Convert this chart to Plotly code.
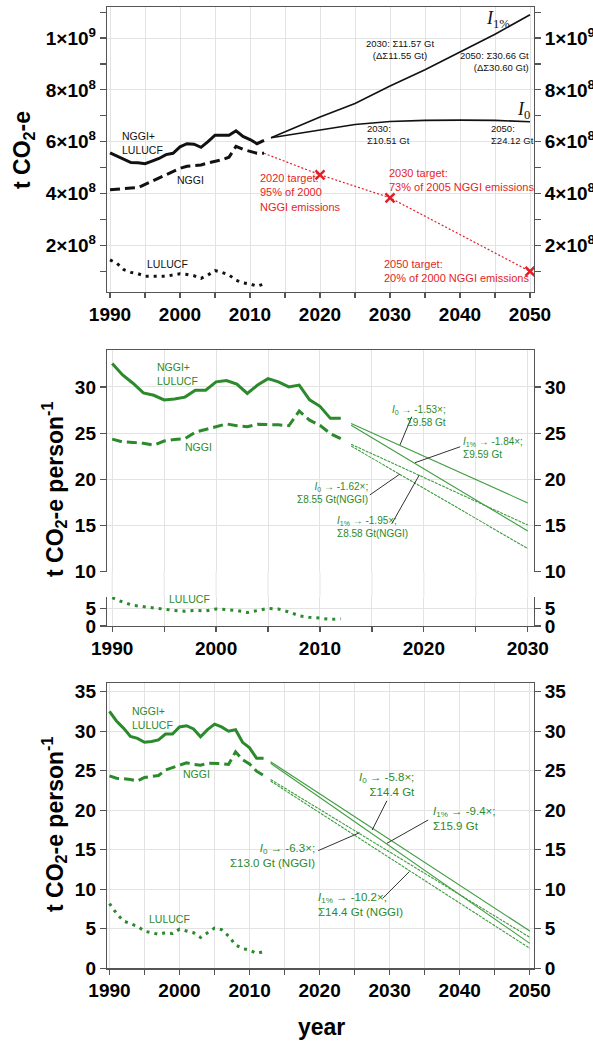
import plotly.graph_objects as go

W, H = 593, 1041

# ---------------- data ----------------
years = list(range(1990, 2013))
total_abs = [5.57e8, 5.45e8, 5.30e8, 5.19e8, 5.18e8, 5.15e8, 5.25e8, 5.35e8, 5.50e8, 5.55e8,
             5.80e8, 5.92e8, 5.90e8, 5.78e8, 6.00e8, 6.25e8, 6.25e8, 6.25e8, 6.42e8, 6.20e8,
             6.08e8, 5.92e8, 6.05e8]
nggi_abs = [4.14e8, 4.17e8, 4.19e8, 4.21e8, 4.22e8, 4.35e8, 4.45e8, 4.60e8, 4.72e8, 4.85e8,
            4.97e8, 5.05e8, 5.08e8, 5.10e8, 5.18e8, 5.25e8, 5.30e8, 5.40e8, 5.82e8, 5.70e8,
            5.63e8, 5.55e8, 5.55e8]
lulucf_abs = [1.43e8, 1.30e8, 1.05e8, 0.95e8, 0.90e8, 0.80e8, 0.80e8, 0.80e8, 0.80e8, 0.85e8,
              0.90e8, 0.87e8, 0.82e8, 0.72e8, 0.85e8, 1.02e8, 0.95e8, 0.85e8, 0.65e8, 0.55e8,
              0.50e8, 0.42e8, 0.50e8]

proj_years = [2013, 2016, 2020, 2025, 2030, 2035, 2040, 2045, 2050]
i1_abs = [6.15e8, 6.50e8, 6.95e8, 7.47e8, 8.15e8, 8.78e8, 9.45e8, 10.15e8, 10.9e8]
i0_abs = [6.15e8, 6.28e8, 6.45e8, 6.66e8, 6.78e8, 6.82e8, 6.83e8, 6.82e8, 6.77e8]

target_years = [2020, 2030, 2050]
target_abs = [4.72e8, 3.83e8, 0.99e8]

total_pc = [32.53, 31.3, 30.4, 29.35, 29.1, 28.6, 28.7, 28.9, 29.65, 29.65, 30.55, 30.7, 30.3,
            29.3, 30.2, 30.9, 30.55, 30.0, 30.2, 28.6, 27.9, 26.6, 26.6]
nggi_pc = [24.35, 24.05, 24.0, 23.9, 23.7, 24.15, 24.3, 24.4, 25.1, 25.4, 25.7, 26.0, 25.8,
           25.7, 25.95, 25.95, 25.9, 25.8, 27.4, 26.4, 25.85, 24.95, 24.4]
lulucf_pc = [8.2, 6.95, 6.0, 5.6, 5.3, 4.7, 4.5, 4.3, 4.5, 4.4, 4.95, 4.75, 4.5, 3.9, 4.5,
             5.1, 4.9, 4.1, 2.95, 2.5, 2.3, 1.9, 2.1]

# per-capita projections (start 2013, end 2030 / 2050)
mid_years = [2013, 2030]
mid_i0_tot = [26.04, 17.45]
mid_i1_tot = [25.86, 14.4]
mid_i0_nggi = [23.8, 15.05]
mid_i1_nggi = [23.6, 12.5]

bot_years = [2013, 2050]
bot_i0_tot = [26.15, 4.72]
bot_i1_tot = [25.95, 3.16]
bot_i0_nggi = [23.9, 3.92]
bot_i1_nggi = [23.7, 2.53]

top_ticks = [2e8, 4e8, 6e8, 8e8, 1e9]
top_ticktext = ["2×10<sup>8</sup>", "4×10<sup>8</sup>", "6×10<sup>8</sup>",
                "8×10<sup>8</sup>", "1×10<sup>9</sup>"]

# ---------------- style ----------------
BLACK = "#111111"
GREEN = "#2b8a2b"
GREEN_T = "#3f9c3f"
RED = "#e41e26"
GRID = "#e3e3e3"
FRAME = "#555555"
TICKFONT = dict(family="Liberation Sans, Arial", size=19, color="black", weight="bold")
SANS = "Liberation Sans, Arial"
SERIF = "Liberation Serif, DejaVu Serif"

def px_x(p):
    return p / W

def px_y(p):
    return 1 - p / H

XDOM = [px_x(107), px_x(534)]

fig = go.Figure()

def line(x, y, xa, ya, color, width, dash="solid"):
    fig.add_trace(go.Scatter(x=x, y=y, xaxis=xa, yaxis=ya, mode="lines",
                             line=dict(color=color, width=width, dash=dash),
                             hoverinfo="skip", showlegend=False))

def dummy(xa, ya):
    fig.add_trace(go.Scatter(x=[None], y=[None], xaxis=xa, yaxis=ya, mode="lines",
                             hoverinfo="skip", showlegend=False))

DASH = "10px,5px"
DOT = "3px,5px"

# ---- top panel ----
line(years, total_abs, "x", "y", BLACK, 3)
line(years, nggi_abs, "x", "y", BLACK, 3, DASH)
line(years, lulucf_abs, "x", "y", BLACK, 3, DOT)
line(proj_years, i1_abs, "x", "y", BLACK, 1.6)
line(proj_years, i0_abs, "x", "y", BLACK, 1.6)
line([years[-1]] + target_years, [nggi_abs[-1]] + target_abs, "x", "y", RED, 1.2, "2px,2px")
fig.add_trace(go.Scatter(x=target_years, y=target_abs, xaxis="x", yaxis="y", mode="markers",
                         marker=dict(symbol="x-thin", size=9, line=dict(color=RED, width=2.5)),
                         hoverinfo="skip", showlegend=False))
dummy("x", "y2")

# ---- middle panel ----
line(years, total_pc, "x2", "y3", GREEN, 3)
line(years, nggi_pc, "x2", "y3", GREEN, 3, DASH)
line(years, lulucf_pc, "x3", "y5", GREEN, 3, DOT)
line(mid_years, mid_i0_tot, "x2", "y3", GREEN_T, 1.1)
line(mid_years, mid_i1_tot, "x2", "y3", GREEN_T, 1.1)
line(mid_years, mid_i0_nggi, "x2", "y3", GREEN_T, 1.1, "3px,1px")
line(mid_years, mid_i1_nggi, "x2", "y3", GREEN_T, 1.1, "3px,1px")
dummy("x2", "y4")
dummy("x3", "y6")

# ---- bottom panel ----
line(years, total_pc, "x4", "y7", GREEN, 3)
line(years, nggi_pc, "x4", "y7", GREEN, 3, DASH)
line(years, lulucf_pc, "x4", "y7", GREEN, 3, DOT)
line(bot_years, bot_i0_tot, "x4", "y7", GREEN_T, 1.1)
line(bot_years, bot_i1_tot, "x4", "y7", GREEN_T, 1.1)
line(bot_years, bot_i0_nggi, "x4", "y7", GREEN_T, 1.1, "3px,1px")
line(bot_years, bot_i1_nggi, "x4", "y7", GREEN_T, 1.1, "3px,1px")
dummy("x4", "y8")

# ---------------- axes ----------------
def xax(rng, anchor, labels=True, side="bottom", mirror=True, tickvals=None):
    d = dict(domain=XDOM, anchor=anchor, range=rng, showgrid=True, gridcolor=GRID, gridwidth=1,
             showline=True, linecolor=FRAME, linewidth=1.2, mirror=mirror, zeroline=False,
             side=side, automargin=False, tickfont=TICKFONT)
    if labels:
        d.update(tickmode="array", tickvals=tickvals, ticks="outside", ticklen=5, tickwidth=1.2,
                 tickcolor=FRAME, showticklabels=True,
                 minor=dict(dtick=5, tick0=1990, ticks="outside", ticklen=5, tickwidth=1.2,
                            tickcolor=FRAME, showgrid=True, gridcolor=GRID))
    else:
        d.update(tickmode="array", tickvals=list(range(1990, 2031, 5)), ticks="",
                 showticklabels=False)
    return d

def yax(dom, rng, tickvals, ticktext=None, side="left", overlay=None, anchor=None,
        grid=True, mirror=True, minorvals=None):
    d = dict(domain=dom, range=rng, tickmode="array", tickvals=tickvals, ticks="outside",
             ticklen=6, tickwidth=1.2, tickcolor=FRAME, showgrid=grid, gridcolor=GRID,
             zeroline=False, automargin=False, tickfont=TICKFONT, side=side)
    if ticktext is not None:
        d["ticktext"] = ticktext
    if overlay:
        d.update(overlaying=overlay, anchor=anchor, showline=False, showgrid=False)
    else:
        d.update(anchor=anchor, showline=True, linecolor=FRAME, linewidth=1.2, mirror=mirror)
    if minorvals:
        d["minor"] = dict(tickvals=minorvals, ticks="outside", ticklen=6, tickwidth=1.2,
                          tickcolor=FRAME, showgrid=False)
    return d

top_dom = [px_y(292), px_y(7)]
midu_dom = [px_y(571.7), px_y(350)]
midl_dom = [px_y(626), px_y(596.7)]
bot_dom = [px_y(968.3), px_y(683.3)]

top_range = [0.193e8, 11.2e8]
top_minor = [1e8, 3e8, 5e8, 7e8, 9e8, 11e8]
fig.update_layout(
    xaxis=xax([1989.57, 2050.57], "y", tickvals=list(range(1990, 2051, 10))),
    yaxis=yax(top_dom, top_range, top_ticks, top_ticktext, anchor="x", minorvals=top_minor),
    yaxis2=yax(top_dom, top_range, top_ticks, top_ticktext, side="right", overlay="y",
               anchor="x", minorvals=top_minor),
    xaxis2=xax([1989.5, 2030.6], "y3", labels=False, side="top", mirror=False),
    yaxis3=yax(midu_dom, [10, 34], [10, 15, 20, 25, 30], anchor="x2"),
    yaxis4=yax(midu_dom, [10, 34], [10, 15, 20, 25, 30], side="right", overlay="y3",
               anchor="x2"),
    xaxis3=xax([1989.5, 2030.6], "y5", mirror=False, tickvals=list(range(1990, 2031, 10))),
    yaxis5=yax(midl_dom, [0, 8.5], [0, 5], anchor="x3"),
    yaxis6=yax(midl_dom, [0, 8.5], [0, 5], side="right", overlay="y5", anchor="x3"),
    xaxis4=xax([1989.65, 2050.6], "y7", tickvals=list(range(1990, 2051, 10))),
    yaxis7=yax(bot_dom, [0, 36.07], list(range(0, 36, 5)), anchor="x4"),
    yaxis8=yax(bot_dom, [0, 36.07], list(range(0, 36, 5)), side="right", overlay="y7",
               anchor="x4"),
)

# vertical grid continuing through the broken-axis gap of the middle panel
for yr in range(1990, 2031, 5):
    fig.add_shape(type="line", xref="x3", yref="paper", x0=yr, x1=yr,
                  y0=px_y(596.7), y1=px_y(571.7), line=dict(color=GRID, width=1), layer="below")

# ---------------- annotations ----------------
ann = []

def txt(x, y, text, xr, yr, color, size=10.5, xanchor="left", align="left", family=SANS):
    ann.append(dict(x=x, y=y, xref=xr, yref=yr, text=text, showarrow=False, xanchor=xanchor,
                    yanchor="middle", align=align,
                    font=dict(family=family, size=size, color=color)))

# top panel
txt(1991.4, 5.95e8, "NGGI+<br>LULUCF", "x", "y", BLACK, 10.5)
txt(1999.3, 4.52e8, "NGGI", "x", "y", BLACK, 10.5)
txt(1995.0, 1.27e8, "LULUCF", "x", "y", BLACK, 10.5)
txt(2011.1, 4.05e8, "2020 target:<br>95% of 2000<br>NGGI emissions", "x", "y", RED, 11)
txt(2029.5, 4.52e8, "2030 target:<br>73% of 2005 NGGI emissions", "x", "y", RED, 11)
txt(2028.8, 1.0e8, "2050 target:<br>20% of 2000 NGGI emissions", "x", "y", RED, 11)
txt(2031.4, 9.54e8, "2030: Σ11.57 Gt<br>(ΔΣ11.55 Gt)", "x", "y", BLACK, 9.5,
    xanchor="center", align="center")
txt(2050.1, 9.11e8, "2050: Σ30.66 Gt<br>(ΔΣ30.60 Gt)", "x", "y", BLACK, 9.5,
    xanchor="right", align="right")
txt(2026.4, 6.27e8, "2030:<br>Σ10.51 Gt", "x", "y", BLACK, 9.5)
txt(2044.1, 6.27e8, "2050:<br>Σ24.12 Gt", "x", "y", BLACK, 9.5)
txt(2043.4, 10.72e8, "<i>I</i><sub>1%</sub>", "x", "y", BLACK, 18, family=SERIF)
txt(2047.9, 7.2e8, "<i>I</i><sub>0</sub>", "x", "y", BLACK, 18, family=SERIF)

# middle panel
txt(1994.1, 31.4, "NGGI+<br>LULUCF", "x2", "y3", GREEN, 10.5)
txt(1996.8, 23.47, "NGGI", "x2", "y3", GREEN, 10.5)
txt(1995.25, 7.7, "LULUCF", "x3", "y5", GREEN, 10.5)
txt(2022.3, 26.82, "<i>I</i><sub>0</sub> → -1.53×;<br>Σ9.58 Gt", "x2", "y3", GREEN, 10,
    xanchor="right", align="right")
txt(2023.6, 23.36, "<i>I</i><sub>1%</sub> → -1.84×;<br>Σ9.59 Gt", "x2", "y3", GREEN, 10)
txt(2014.8, 18.55, "<i>I</i><sub>0</sub> → -1.62×;<br>Σ8.55 Gt(NGGI)", "x2", "y3", GREEN, 10,
    xanchor="right", align="right")
txt(2011.4, 14.88, "<i>I</i><sub>1%</sub> → -1.95×;<br>Σ8.58 Gt(NGGI)", "x2", "y3", GREEN, 10)

# bottom panel
txt(1992.9, 31.7, "NGGI+<br>LULUCF", "x4", "y7", GREEN, 10.5)
txt(2000.2, 24.6, "NGGI", "x4", "y7", GREEN, 10.5)
txt(1995.3, 6.2, "LULUCF", "x4", "y7", GREEN, 10.5)
txt(2029.6, 23.3, "<i>I</i><sub>0</sub> → -5.8×;<br>Σ14.4 Gt", "x4", "y7", GREEN, 11.5,
    xanchor="center", align="right")
txt(2035.9, 18.94, "<i>I</i><sub>1%</sub> → -9.4×;<br>Σ15.9 Gt", "x4", "y7", GREEN, 11.5)
txt(2019.6, 14.3, "<i>I</i><sub>0</sub> → -6.3×;<br>Σ13.0 Gt (NGGI)", "x4", "y7", GREEN, 11.5,
    xanchor="right", align="right")
txt(2019.46, 8.11, "<i>I</i><sub>1%</sub> → -10.2×;<br>Σ14.4 Gt (NGGI)", "x4", "y7", GREEN, 11.5)

# axis titles
TF = dict(family=SANS, size=23, color="black", weight="bold")
ann.append(dict(x=px_x(24), y=px_y(150), xref="paper", yref="paper", text="t CO<sub>2</sub>-e",
                textangle=-90, showarrow=False, xanchor="center", yanchor="middle", font=TF))
ann.append(dict(x=px_x(54), y=px_y(490), xref="paper", yref="paper",
                text="t CO<sub>2</sub>-e person<sup>-1</sup>", textangle=-90, showarrow=False,
                xanchor="center", yanchor="middle", font=TF))
ann.append(dict(x=px_x(54), y=px_y(825), xref="paper", yref="paper",
                text="t CO<sub>2</sub>-e person<sup>-1</sup>", textangle=-90, showarrow=False,
                xanchor="center", yanchor="middle", font=TF))
ann.append(dict(x=px_x(321), y=px_y(1027), xref="paper", yref="paper", text="year",
                showarrow=False, xanchor="center", yanchor="middle", font=TF))

fig.update_layout(annotations=ann)

# leader lines
LEAD = "#333333"
leaders = [
    ("x2", "y3", 2018.83, 26.78, 2017.7, 23.72),
    ("x2", "y3", 2023.5, 23.53, 2019.15, 21.8),
    ("x2", "y3", 2014.8, 18.31, 2017.7, 20.58),
    ("x2", "y3", 2016.9, 15.17, 2019.56, 20.47),
    ("x4", "y7", 2029.6, 21.2, 2027.5, 17.5),
    ("x4", "y7", 2035.5, 18.77, 2029.6, 15.82),
    ("x4", "y7", 2019.8, 14.89, 2025.7, 17.16),
    ("x4", "y7", 2029.0, 8.86, 2032.8, 12.23),
]
for xr, yr, x0, y0, x1, y1 in leaders:
    fig.add_shape(type="line", xref=xr, yref=yr, x0=x0, y0=y0, x1=x1, y1=y1,
                  line=dict(color=LEAD, width=1))

fig.update_layout(width=W, height=H, autosize=False,
                  margin=dict(l=0, r=0, t=0, b=0),
                  paper_bgcolor="white", plot_bgcolor="white",
                  font=dict(family=SANS, color="black"))

fig.write_html("out.html", config={"displayModeBar": False, "staticPlot": True},
               post_script="document.body.style.margin='0';document.body.style.padding='0';")
